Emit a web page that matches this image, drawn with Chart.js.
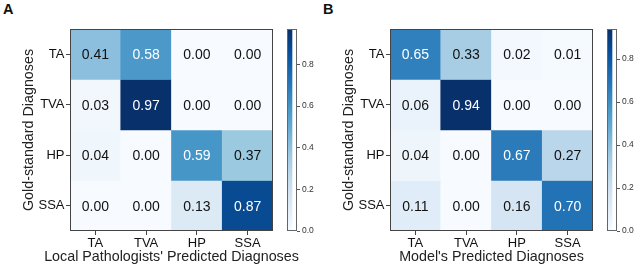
<!DOCTYPE html>
<html>
<head>
<meta charset="utf-8">
<script src="https://cdn.jsdelivr.net/npm/chart.js@4/dist/chart.umd.min.js"></script>
<style>
  html, body { margin: 0; padding: 0; background: #fff; }
  #wrap { position: relative; width: 640px; height: 272px; overflow: hidden; background: #fff; }
  canvas { position: absolute; top: 0; }
  .panel { position: absolute; top: 1px; font: bold 14.5px 'Liberation Sans', Arial, sans-serif; color: #111; }
</style>
</head>
<body>
<div id="wrap">
  <div class="panel" style="left:3px">A</div>
  <div class="panel" style="left:323px">B</div>
  <canvas id="mA" width="320" height="272" style="left:0px"></canvas>
  <canvas id="cA" width="40" height="272" style="left:280px"></canvas>
  <canvas id="mB" width="320" height="272" style="left:320px"></canvas>
  <canvas id="cB" width="40" height="272" style="left:600px"></canvas>
</div>
<script>
// ---- data ----
const categories = ['TA', 'TVA', 'HP', 'SSA'];
const matrixA = [
  [0.41, 0.58, 0.00, 0.00],
  [0.03, 0.97, 0.00, 0.00],
  [0.04, 0.00, 0.59, 0.37],
  [0.00, 0.00, 0.13, 0.87]
];
const matrixB = [
  [0.65, 0.33, 0.02, 0.01],
  [0.06, 0.94, 0.00, 0.00],
  [0.04, 0.00, 0.67, 0.27],
  [0.11, 0.00, 0.16, 0.70]
];
const colorbarTicks = [0.0, 0.2, 0.4, 0.6, 0.8];
const xTitleA = "Local Pathologists' Predicted Diagnoses";
const xTitleB = "Model's Predicted Diagnoses";
const yTitle = 'Gold-standard Diagnoses';

// ---- colormap (matplotlib Blues) ----
const bluesStops = ['#f7fbff','#deebf7','#c6dbef','#9ecae1','#6baed6','#4292c6','#2171b5','#08519c','#08306b'];
function hexToRgb(h) { return [1,3,5].map(i => parseInt(h.substr(i,2),16)); }
function blues(t) {
  t = Math.max(0, Math.min(1, t));
  const p = t * (bluesStops.length - 1);
  const i = Math.min(Math.floor(p), bluesStops.length - 2);
  const f = p - i;
  const a = hexToRgb(bluesStops[i]), b = hexToRgb(bluesStops[i+1]);
  const c = a.map((v,k) => Math.round(v + (b[k]-v)*f));
  return `rgb(${c[0]},${c[1]},${c[2]})`;
}

const FONT = "'Liberation Sans', Arial, sans-serif";
Chart.defaults.font.family = FONT;
Chart.defaults.color = '#222';

const framePlugin = {
  id: 'frame',
  afterDatasetsDraw(chart, args, opts) {
    const {ctx, chartArea: a} = chart;
    ctx.save();
    ctx.strokeStyle = opts.color || '#444';
    ctx.lineWidth = 1;
    ctx.strokeRect(Math.round(a.left) + 0.5, Math.round(a.top) + 0.5,
                   Math.round(a.right - a.left) - 1, Math.round(a.bottom - a.top) - 1);
    ctx.restore();
  }
};

const cellTextPlugin = {
  id: 'cellText',
  afterDatasetsDraw(chart, args, opts) {
    const {ctx} = chart;
    const m = opts.matrix, vmax = opts.vmax;
    ctx.save();
    ctx.font = "14px " + FONT;
    ctx.textAlign = 'center';
    ctx.textBaseline = 'middle';
    chart.data.datasets.forEach((ds, r) => {
      chart.getDatasetMeta(r).data.forEach((el, c) => {
        const p = el.getProps(['x', 'y', 'base'], true);
        const v = m[r][c];
        ctx.fillStyle = v > vmax / 2 ? '#ffffff' : '#111111';
        ctx.fillText(v.toFixed(2), p.x, (p.y + p.base) / 2 + 1);
      });
    });
    ctx.restore();
  }
};

// x-axis title drawn without width compression (it is wider than the plot)
const xTitlePlugin = {
  id: 'xTitle',
  afterDraw(chart, args, opts) {
    const {ctx, chartArea: a} = chart;
    ctx.save();
    ctx.font = "14.3px " + FONT;
    ctx.fillStyle = '#222';
    ctx.textAlign = 'center';
    ctx.textBaseline = 'middle';
    ctx.fillText(opts.text, (a.left + a.right) / 2, a.bottom + 26);
    ctx.restore();
  }
};

function matrixChart(id, matrix, xTitle) {
  const vmax = Math.max(...matrix.flat());
  const datasets = matrix.map((row, r) => ({
    data: row.map(() => [r - 0.5, r + 0.5]),
    backgroundColor: row.map(v => blues(v / vmax)),
    borderWidth: 0,
    barPercentage: 1,
    categoryPercentage: 1
  }));
  return new Chart(document.getElementById(id), {
    type: 'bar',
    data: { labels: categories, datasets },
    plugins: [framePlugin, cellTextPlugin, xTitlePlugin],
    options: {
      responsive: false, animation: false, devicePixelRatio: 1,
      layout: { padding: { top: 29, right: 47, left: 0, bottom: 0 } },
      plugins: {
        legend: { display: false }, tooltip: { enabled: false },
        frame: { color: '#444' },
        cellText: { matrix, vmax },
        xTitle: { text: xTitle }
      },
      scales: {
        x: {
          type: 'category', stacked: true, offset: true,
          grid: { offset: false, drawOnChartArea: false, drawTicks: true, tickLength: 4, color: '#444' },
          border: { display: false },
          ticks: { font: { size: 13 }, color: '#111', padding: 1, maxRotation: 0 },
          afterFit: s => { s.height = 41; }
        },
        y: {
          type: 'linear', min: -0.5, max: 3.5, reverse: true,
          afterBuildTicks: s => { s.ticks = categories.map((_, i) => ({ value: i })); },
          grid: { drawOnChartArea: false, drawTicks: true, tickLength: 4, color: '#444' },
          border: { display: false },
          ticks: { font: { size: 13 }, color: '#111', padding: 1.5, callback: v => categories[v] },
          title: { display: true, text: yTitle, font: { size: 14.3 }, color: '#222', padding: { top: 20, bottom: 0 } },
          afterFit: s => { s.width = 70; }
        }
      }
    }
  });
}

function colorbarChart(id, matrix) {
  const vmax = Math.max(...matrix.flat());
  return new Chart(document.getElementById(id), {
    type: 'bar',
    data: {
      labels: [''],
      datasets: [{
        data: [[0, vmax]],
        borderWidth: 0, barPercentage: 1, categoryPercentage: 1,
        backgroundColor: (ctx) => {
          const chart = ctx.chart;
          if (!chart.chartArea) return bluesStops[4];
          const ys = chart.scales.y;
          const g = chart.ctx.createLinearGradient(0, ys.getPixelForValue(0), 0, ys.getPixelForValue(vmax));
          bluesStops.forEach((c, i) => g.addColorStop(i / (bluesStops.length - 1), c));
          return g;
        }
      }]
    },
    plugins: [framePlugin],
    options: {
      responsive: false, animation: false, devicePixelRatio: 1,
      layout: { padding: { top: 29, left: 7, right: 0, bottom: 41 } },
      plugins: { legend: { display: false }, tooltip: { enabled: false }, frame: { color: '#666' } },
      scales: {
        x: { display: false, offset: false },
        y: {
          position: 'right', min: 0, max: vmax,
          afterBuildTicks: s => { s.ticks = colorbarTicks.map(v => ({ value: v })); },
          grid: { drawOnChartArea: false, drawTicks: true, tickLength: 3, color: '#555' },
          border: { display: false },
          ticks: { font: { size: 8.5 }, color: '#333', padding: 2, callback: v => v.toFixed(1) },
          afterFit: s => { s.width = 23; }
        }
      }
    }
  });
}

matrixChart('mA', matrixA, xTitleA);
colorbarChart('cA', matrixA);
matrixChart('mB', matrixB, xTitleB);
colorbarChart('cB', matrixB);
</script>
</body>
</html>
